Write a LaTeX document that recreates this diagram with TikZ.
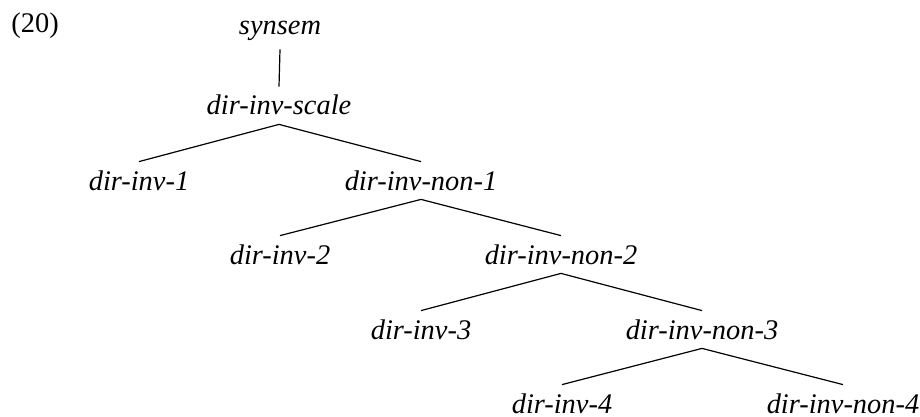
\documentclass[tikz,border=0pt]{standalone}
\usepackage{fontspec}
\setmainfont{Liberation Serif}[ItalicFont={Liberation Serif Italic}]
\begin{document}
\begin{tikzpicture}[x=0.5pt,y=-0.5pt,
  lbl/.style={anchor=base,inner sep=0pt,text height=14pt,text depth=4.5pt,font=\fontsize{14.2}{17}\selectfont\itshape},
  edge/.style={line width=0.6pt}]
\useasboundingbox (0,0) rectangle (920,417);
\node[anchor=base west,inner sep=0pt,font=\fontsize{14.2}{17}\selectfont] (ex) at (11,33) {(20)};
\node[lbl,text depth=7pt] (synsem) at (280,35) {synsem};
\node[lbl] (scale) at (279,115) {dir-inv-scale};
\node[lbl] (i1) at (139,190) {dir-inv-1};
\node[lbl] (n1) at (421,190) {dir-inv-non-1};
\node[lbl] (i2) at (280,264) {dir-inv-2};
\node[lbl] (n2) at (561,264) {dir-inv-non-2};
\node[lbl] (i3) at (421,339) {dir-inv-3};
\node[lbl] (n3) at (702,339) {dir-inv-non-3};
\node[lbl] (i4) at (562,413) {dir-inv-4};
\node[lbl] (n4) at (843,413) {dir-inv-non-4};
\draw[edge] (synsem.south) -- (scale.north);
\draw[edge] (i1.north) -- (scale.south) -- (n1.north);
\draw[edge] (i2.north) -- (n1.south) -- (n2.north);
\draw[edge] (i3.north) -- (n2.south) -- (n3.north);
\draw[edge] (i4.north) -- (n3.south) -- (n4.north);
\end{tikzpicture}
\end{document}
